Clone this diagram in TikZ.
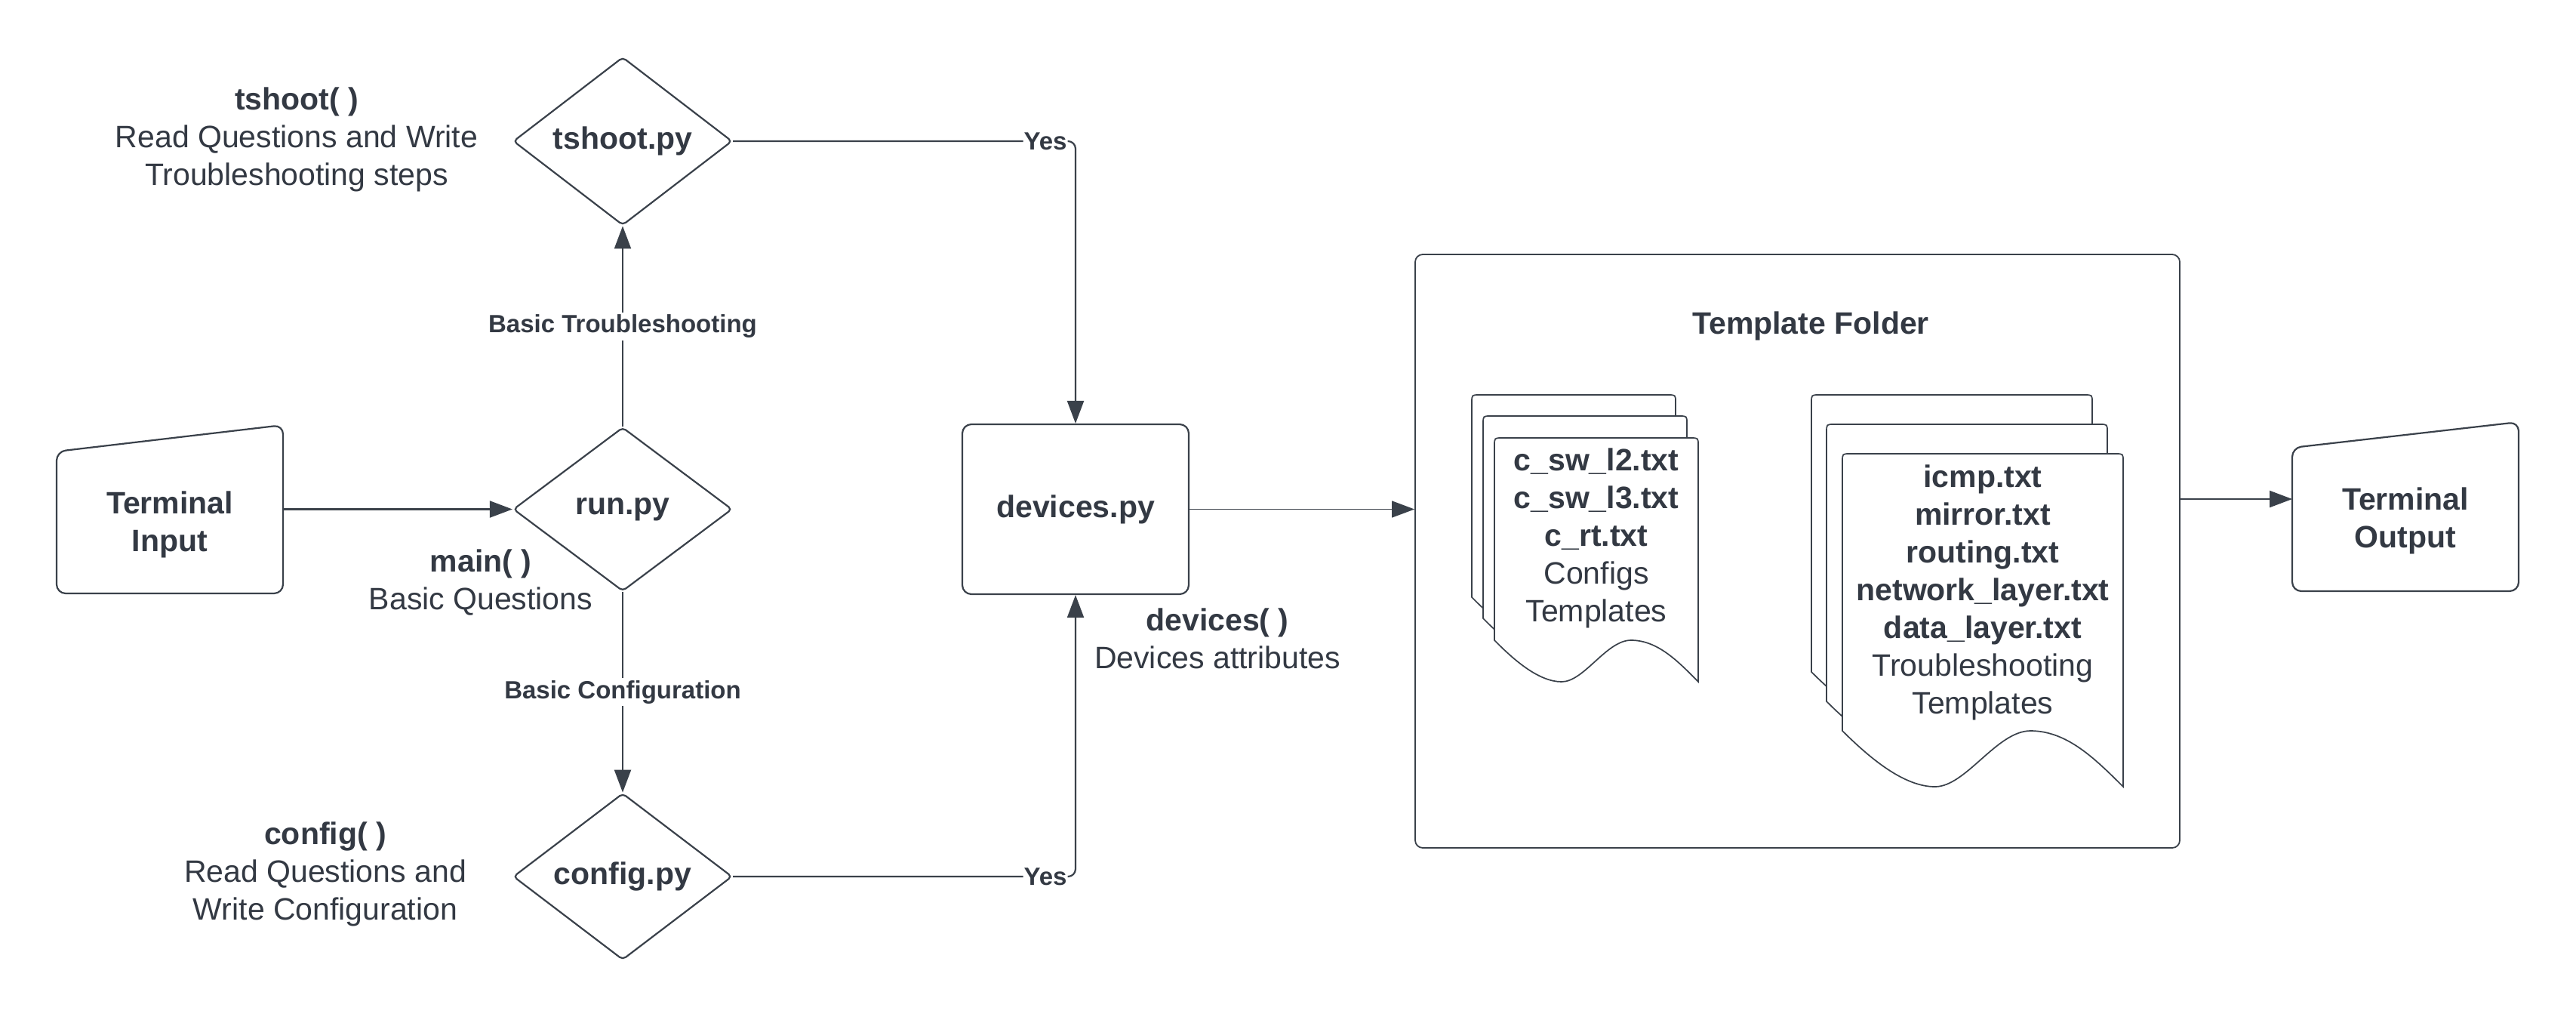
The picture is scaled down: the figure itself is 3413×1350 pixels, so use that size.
\documentclass[tikz,border=0pt]{standalone}
\usepackage{fontspec}
\setmainfont{Liberation Sans}
\usetikzlibrary{arrows.meta,shapes.geometric,calc}
\definecolor{lc}{RGB}{58,65,74}
\definecolor{tc}{RGB}{51,57,67}
\tikzset{
  base/.style={font=\fontsize{41}{50}\selectfont, text=tc, align=center, inner sep=0pt},
  bold/.style={base, font=\fontsize{41}{50}\selectfont\bfseries},
  dia/.style={draw=lc, line width=2.2pt, shape=diamond, minimum width=290pt, minimum height=217pt, inner sep=0pt, rounded corners=5pt, fill=white, bold},
  box/.style={draw=lc, line width=2.2pt, rectangle, rounded corners=12pt, fill=white, bold},
  shp/.style={draw=lc, line width=2.2pt, fill=white},
  docst/.style={draw=lc, line width=1.7pt, fill=white},
  anchorbox/.style={rectangle, draw=none, inner sep=0pt},
  arr/.style={draw=lc, line width=2.2pt, -{Triangle[length=30pt,width=22pt]}},
  elbl/.style={font=\fontsize{33}{40}\selectfont\bfseries, text=tc, fill=white, inner sep=3pt},
}
\newcommand\lucdoc[5]{%
  \begin{scope}[shift={(#1,#2)}]
    \draw[docst] (0,#4) -- (0,10) .. controls (0,0) .. (10,0) -- ({#3-10},0) .. controls (#3,0) .. (#3,10)
      -- (#3,{#4+#5})
      .. controls ({0.9*#3},{#4+0.5*#5}) and ({0.8*#3},#4) .. ({0.67*#3},#4)
      .. controls ({0.55*#3},#4) and ({0.44*#3},{#4+#5}) .. ({0.33*#3},{#4+#5})
      .. controls ({0.22*#3},{#4+#5}) and ({0.1*#3},{#4+0.5*#5}) .. (0,#4) -- cycle;
  \end{scope}}
\begin{document}
\begin{tikzpicture}[x=1pt,y=-1pt]
\useasboundingbox (0,0) rectangle (3413,1350);
\fill[white] (0,0) rectangle (3413,1350);

% Terminal Input
\draw[shp, rounded corners=12pt] (75,786) -- (75,598) -- (375,563) -- (375,786) -- cycle;
\node[anchorbox, minimum width=300pt, minimum height=223pt] (tin) at (225,674.5) {};
\node[bold] (tintxt) at (225,695) {Terminal\\Input};

% Terminal Output
\draw[shp, rounded corners=12pt] (3037,783) -- (3037,593) -- (3337,559) -- (3337,783) -- cycle;
\node[anchorbox, minimum width=300pt, minimum height=224pt] (tout) at (3187,671) {};
\node[bold] (touttxt) at (3187,690) {Terminal\\Output};
\coordinate (toutw) at (3037,661);

% diamonds
\node[dia] (tsh) at (825,187) {tshoot.py};
\node[dia] (run) at (825,674.5) {run.py};
\node[dia] (cfg) at (825,1161) {config.py};

% devices
\node[box, minimum width=300pt, minimum height=225pt] (dev) at (1425,674.5) {devices.py};

% folder
\node[box, line width=1.8pt, rounded corners=10pt, minimum width=1013pt, minimum height=786pt] (fold) at (2381.5,730) {};
\node[bold] (ftitle) at (2399,432) {Template Folder};

% config docs
\lucdoc{1950}{523}{270}{268}{55}
\lucdoc{1965}{551}{270}{268}{55}
\lucdoc{1980}{580}{270}{268}{55}
\node[base] (ctxt) at (2115,713) {\textbf{c\_sw\_l2.txt}\\\textbf{c\_sw\_l3.txt}\\\textbf{c\_rt.txt}\\Configs\\Templates};

% troubleshooting docs
\lucdoc{2400}{523}{372}{367}{74}
\lucdoc{2420}{562}{372}{367}{74}
\lucdoc{2441}{601}{372}{367}{74}
\node[base] (ttxt) at (2627,785) {\textbf{icmp.txt}\\\textbf{mirror.txt}\\\textbf{routing.txt}\\\textbf{network\_layer.txt}\\\textbf{data\_layer.txt}\\Troubleshooting\\Templates};

% side texts
\node[base] (tshtxt) at (393,185) {\textbf{tshoot( )}\\Read Questions and Write\\Troubleshooting steps};
\node[base] (maintxt) at (637,772) {\textbf{main( )}\\Basic Questions};
\node[base] (cfgtxt) at (431,1158) {\textbf{config( )}\\Read Questions and\\Write Configuration};
\node[base] (devtxt) at (1613,846) {\textbf{devices( )}\\Devices attributes};

% connectors
\draw[arr] (tin.east) -- (run.west);
\draw[arr] (run.north) -- node[elbl]{Basic Troubleshooting} (tsh.south);
\draw[arr] (run.south) -- node[elbl]{Basic Configuration} (cfg.north);
\draw[arr, rounded corners=10pt] (tsh.east) -- node[elbl, pos=0.912, inner sep=1pt]{Yes} (tsh.east -| dev.north) -- (dev.north);
\draw[arr, rounded corners=10pt] (cfg.east) -- node[elbl, pos=0.912, inner sep=1pt]{Yes} (cfg.east -| dev.south) -- (dev.south);
\draw[arr, line width=1.6pt] (dev.east) -- (dev.east -| fold.west);
\draw[arr] (fold.east |- toutw) -- (toutw);
\end{tikzpicture}
\end{document}
